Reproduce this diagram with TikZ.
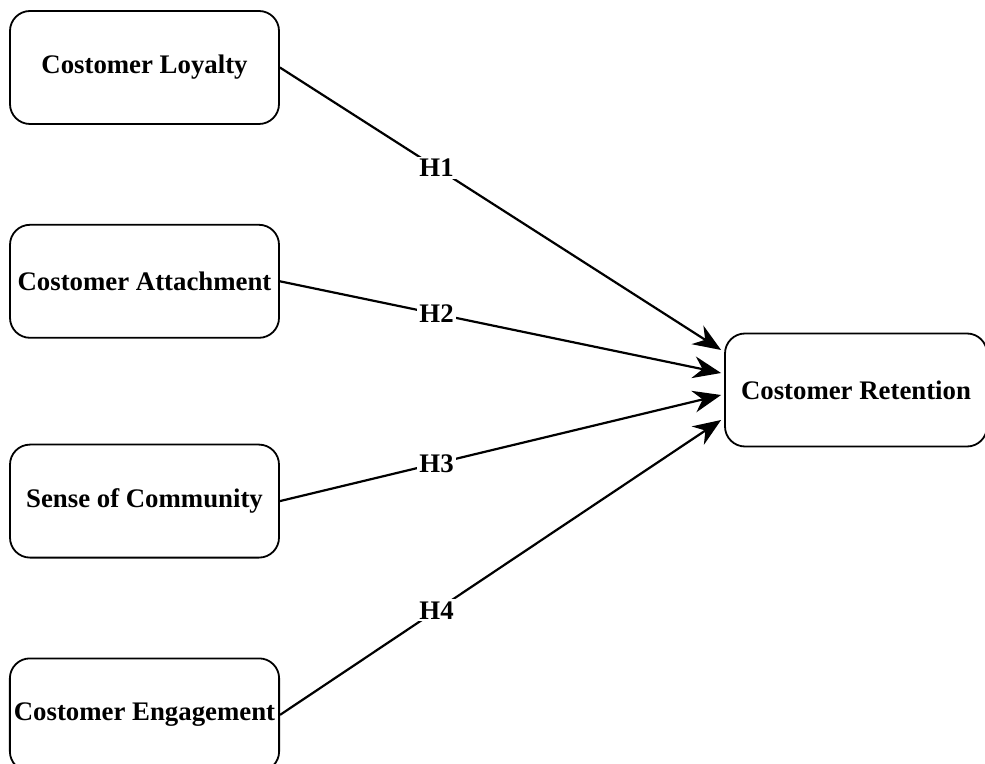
\documentclass[tikz,border=0pt]{standalone}
\usepackage{fontspec}
\setmainfont{Liberation Serif}
\usetikzlibrary{positioning,arrows.meta,calc}

\tikzset{
  box/.style={draw,line width=0.9pt,rounded corners=10pt,minimum width=134.5pt,
    minimum height=56.5pt,inner sep=2pt,font=\fontsize{13.4}{16}\selectfont\bfseries},
  hyp/.style={->,>={Stealth[length=14pt,width=11pt]},line width=1.1pt},
  lbl/.style={fill=white,inner sep=1pt,pos=0.355,font=\fontsize{13.4}{16}\selectfont\bfseries}
}

\begin{document}
\begin{tikzpicture}[x=0.5pt,y=-0.5pt]
    \useasboundingbox (0,0) rectangle (985,764);
    \node[box] (loyal) at (144.5,67.5) {Costomer Loyalty};
    \node[box,below=49.5pt of loyal] (attach) {Costomer Attachment};
    \node[box,below=52.5pt of attach] (comm) {Sense of Community};
    \node[box,below=49.5pt of comm] (engage) {Costomer Engagement};
    \node[box,minimum width=131pt] (ret) at (856,390) {Costomer Retention};
    % arrow tips just before the retention box
    \coordinate (t1) at ($(ret.west)+(-3,-40)$);
    \coordinate (t2) at ($(ret.west)+(-3,-17)$);
    \coordinate (t3) at ($(ret.west)+(-3,5)$);
    \coordinate (t4) at ($(ret.west)+(-3,30)$);
    \draw[hyp] (loyal.east) -- node[lbl] {H1} (t1);
    \draw[hyp] (attach.east) -- node[lbl] {H2} (t2);
    \draw[hyp] (comm.east) -- node[lbl] {H3} (t3);
    \draw[hyp] (engage.east) -- node[lbl] {H4} (t4);
\end{tikzpicture}
\end{document}
